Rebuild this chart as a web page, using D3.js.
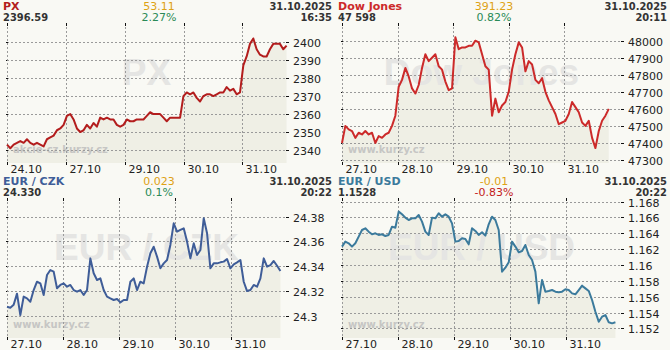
<!DOCTYPE html>
<html>
<head>
<meta charset="utf-8">
<script src="https://cdn.jsdelivr.net/npm/d3@7"></script>
<style>
  body { margin: 0; background: #f9f9f4; }
  svg { display: block; font-family: "DejaVu Sans", sans-serif; }
</style>
</head>
<body>
<div id="chart"></div>
<script>
// Chart data (values sampled evenly along each trading window)

const pxDays = ['24.10', '27.10', '29.10', '30.10', '31.10']
const usDays = ['27.10', '28.10', '29.10', '30.10', '31.10']

const pxTicks = [2400, 2390, 2380, 2370, 2360, 2350, 2340]
const djTicks = [48000, 47900, 47800, 47700, 47600, 47500, 47400, 47300]
const czkTicks = [24.38, 24.36, 24.34, 24.32, 24.3]
const usdTicks = [1.168, 1.166, 1.164, 1.162, 1.16, 1.158, 1.156, 1.154, 1.152]

const pxValues = [
  2343, 2341, 2343, 2344, 2345, 2344, 2346, 2344, 2343, 2344, 2343, 2342, 2346, 2347, 2348,
  2351, 2352, 2354, 2359, 2360, 2357, 2352, 2350, 2351, 2354, 2352, 2355, 2353, 2358, 2357,
  2358, 2357, 2357, 2354, 2353, 2354, 2357, 2356, 2356, 2357, 2357, 2357, 2359, 2361, 2360,
  2360, 2360, 2358, 2356, 2358, 2358, 2358, 2358, 2370, 2372, 2371, 2372, 2369, 2367, 2370,
  2371, 2371, 2370, 2371, 2372, 2372, 2375, 2373, 2374, 2371, 2372, 2387, 2392, 2399, 2402,
  2396, 2393, 2392, 2392, 2396, 2399, 2399, 2399, 2396, 2398
]

const djValues = [
  47400, 47500, 47480, 47470, 47430, 47460, 47450, 47470, 47450, 47460, 47400, 47440, 47430,
  47450, 47460, 47500, 47560, 47730, 47770, 47840, 47790, 47720, 47690, 47740, 47840, 47920,
  47880, 47900, 47920, 47850, 47830, 47760, 47710, 47720, 48020, 47950, 47960, 47960, 47970,
  47970, 48000, 47990, 47920, 47850, 47830, 47560, 47660, 47580, 47620, 47640, 47700, 47830,
  47920, 47990, 47960, 47820, 47880, 47860, 47770, 47750, 47780, 47700, 47650, 47610, 47570,
  47510, 47520, 47530, 47570, 47640, 47610, 47580, 47520, 47500, 47530, 47430, 47370, 47470,
  47530, 47560, 47600
]

const czkValues = [
  24.3075, 24.3067, 24.309, 24.318, 24.3008, 24.3156, 24.3142, 24.3115, 24.3209, 24.3276,
  24.3263, 24.3169, 24.333, 24.337, 24.3357, 24.3223, 24.325, 24.3263, 24.3236, 24.325,
  24.3209, 24.3196, 24.3209, 24.3169, 24.3209, 24.3464, 24.3344, 24.329, 24.3303, 24.3209,
  24.3156, 24.3142, 24.3129, 24.3137, 24.311, 24.3129, 24.3129, 24.3276, 24.3303, 24.3209,
  24.3276, 24.3263, 24.3397, 24.3505, 24.3558, 24.3478, 24.3384, 24.3424, 24.3451, 24.3572,
  24.3746, 24.3679, 24.3693, 24.3706, 24.3599, 24.3464, 24.3585, 24.3491, 24.3531, 24.3787,
  24.3666, 24.3384, 24.3424, 24.3424, 24.3432, 24.3438, 24.3459, 24.3384, 24.3416, 24.3432,
  24.3451, 24.3276, 24.3201, 24.3209, 24.325, 24.3236, 24.3303, 24.3464, 24.3397, 24.341,
  24.3443, 24.3405, 24.3362
]

const usdValues = [
  1.16232, 1.16295, 1.16274, 1.16232, 1.16274, 1.16358, 1.16442, 1.16463, 1.16421, 1.16387,
  1.164, 1.16379, 1.16387, 1.16366, 1.16379, 1.16484, 1.16471, 1.16674, 1.1664, 1.16598,
  1.16568, 1.16589, 1.16589, 1.16632, 1.16547, 1.16421, 1.16379, 1.16598, 1.16589, 1.16653,
  1.1661, 1.1664, 1.1661, 1.16526, 1.16295, 1.16303, 1.16337, 1.16328, 1.16261, 1.16463,
  1.1643, 1.16379, 1.16413, 1.16371, 1.16514, 1.1661, 1.16568, 1.16442, 1.15916, 1.15966,
  1.16034, 1.16295, 1.16232, 1.1616, 1.16177, 1.16253, 1.16126, 1.16063, 1.15916, 1.15516,
  1.15811, 1.15663, 1.15672, 1.15684, 1.15663, 1.15655, 1.15663, 1.15693, 1.15684, 1.15642,
  1.1563, 1.15684, 1.15739, 1.15705, 1.15672, 1.15558, 1.1541, 1.15284, 1.15347, 1.15368,
  1.15276, 1.15263, 1.15276
]

// Panel setup
const panels = [
  { title: 'PX', last: '2396.59', change: '53.11', pct: '2.27%', up: true,
    date: '31.10.2025', time: '16:35', color: '#b31d1d', site: 'akcie-cz.kurzy.cz',
    days: pxDays, ticks: pxTicks, values: pxValues,
    yDomain: [2332.8, 2410.6], dataEnd: 4.75, axisEnd: 4.74 },
  { title: 'Dow Jones', last: '47 598', change: '391.23', pct: '0.82%', up: true,
    date: '31.10.2025', time: '20:11', color: '#cc2a2a', site: 'www.kurzy.cz',
    days: usDays, ticks: djTicks, values: djValues,
    yDomain: [47282.5, 48103.6], dataEnd: 4.80, axisEnd: 5.02 },
  { title: 'EUR / CZK', last: '24.330', change: '0.023', pct: '0.1%', up: true,
    date: '31.10.2025', time: '20:22', color: '#3f5d98', site: 'www.kurzy.cz',
    days: usDays, ticks: czkTicks, values: czkValues,
    yDomain: [24.2823, 24.395], dataEnd: 4.89, axisEnd: 4.99 },
  { title: 'EUR / USD', last: '1.1528', change: '-0.01', pct: '-0.83%', up: false,
    date: '31.10.2025', time: '20:22', color: '#3b7a9c', site: 'www.kurzy.cz',
    days: usDays, ticks: usdTicks, values: usdValues,
    yDomain: [1.15078, 1.16846], dataEnd: 4.89, axisEnd: 4.99 }
]

const width = 670
const height = 350
const panelW = 335
const panelH = 175
const plot = { left: 7, right: 286, top: 23, bottom: 163 }

const svg = d3.select('#chart')
  .append('svg')
  .attr('width', width)
  .attr('height', height)

svg.append('rect')
  .attr('width', width)
  .attr('height', height)
  .attr('fill', '#f9f9f4')

panels.forEach((p, k) => {
  const g = svg.append('g')
    .attr('transform', `translate(${(k % 2) * panelW}, ${Math.floor(k / 2) * panelH})`)

  const x = d3.scaleLinear().domain([0, p.axisEnd]).range([plot.left, plot.right])
  const y = d3.scaleLinear().domain(p.yDomain).range([plot.bottom, plot.top])

  const step = p.dataEnd / (p.values.length - 1)
  const points = p.values.map((v, i) => ({ t: i * step, v: v }))

  // area under the line
  const area = d3.area()
    .x(d => x(d.t))
    .y0(plot.bottom)
    .y1(d => y(d.v))
  g.append('path')
    .datum(points)
    .attr('d', area)
    .attr('fill', '#efefe5')

  // big watermark
  g.append('text')
    .attr('x', (plot.left + plot.right) / 2)
    .attr('y', 85)
    .attr('text-anchor', 'middle')
    .style('font-family', '"Liberation Sans", Arial, sans-serif')
    .style('font-weight', 'bold')
    .style('font-size', '37px')
    .attr('fill', '#e5e5e3')
    .text(p.title)

  g.append('text')
    .attr('x', 13)
    .attr('y', 153)
    .style('font-weight', 'bold')
    .style('font-size', '10px')
    .attr('fill', '#c6c6c4')
    .text(p.site)

  // horizontal grid + ticks
  p.ticks.forEach(v => {
    const yy = Math.round(y(v)) + 0.5
    g.append('line')
      .attr('x1', plot.left).attr('x2', plot.right)
      .attr('y1', yy).attr('y2', yy)
      .attr('stroke', '#9a9a9a')
      .attr('stroke-dasharray', '2,2')
    g.append('line')
      .attr('x1', plot.left - 1).attr('x2', plot.left + 1)
      .attr('y1', yy).attr('y2', yy)
      .attr('stroke', '#111')
    g.append('line')
      .attr('x1', plot.right).attr('x2', plot.right + 3)
      .attr('y1', yy).attr('y2', yy)
      .attr('stroke', '#111')
    g.append('text')
      .attr('x', plot.right + 7)
      .attr('y', yy + 4)
      .style('font-size', '11px')
      .attr('fill', '#222')
      .text(String(v))
  })

  // vertical day grid + labels
  p.days.forEach((label, i) => {
    const xx = Math.round(x(i)) + 0.5
    g.append('line')
      .attr('x1', xx).attr('x2', xx)
      .attr('y1', plot.top).attr('y2', plot.bottom)
      .attr('stroke', '#9a9a9a')
      .attr('stroke-dasharray', '2,2')
    g.append('line')
      .attr('x1', xx).attr('x2', xx)
      .attr('y1', plot.top).attr('y2', plot.top + 3)
      .attr('stroke', '#111')
    g.append('line')
      .attr('x1', xx).attr('x2', xx)
      .attr('y1', plot.bottom - 1).attr('y2', plot.bottom + 2)
      .attr('stroke', '#111')
    g.append('text')
      .attr('x', xx + 3)
      .attr('y', 173)
      .style('font-size', '11px')
      .attr('fill', '#222')
      .text(label)
  })

  // price line
  const line = d3.line()
    .x(d => x(d.t))
    .y(d => y(d.v))
  g.append('path')
    .datum(points)
    .attr('d', line)
    .attr('fill', 'none')
    .attr('stroke', p.color)
    .attr('stroke-width', 2)
    .attr('stroke-linejoin', 'round')

  // header
  g.append('text')
    .attr('x', 3).attr('y', 10)
    .style('font-size', '11px')
    .style('font-weight', 'bold')
    .attr('fill', p.color)
    .text(p.title)
  g.append('text')
    .attr('x', 3).attr('y', 21)
    .style('font-family', '"DejaVu Sans Condensed", "DejaVu Sans", sans-serif')
    .style('font-size', '11px')
    .style('font-weight', 'bold')
    .attr('fill', '#333')
    .text(p.last)
  g.append('text')
    .attr('x', 159).attr('y', 10)
    .attr('text-anchor', 'middle')
    .style('font-size', '11px')
    .attr('fill', '#dea214')
    .text(p.change)
  g.append('text')
    .attr('x', 159).attr('y', 21)
    .attr('text-anchor', 'middle')
    .style('font-size', '11px')
    .attr('fill', p.up ? '#2a8a57' : '#c42020')
    .text(p.pct)
  g.append('text')
    .attr('x', 332).attr('y', 10)
    .attr('text-anchor', 'end')
    .style('font-family', '"DejaVu Sans Condensed", "DejaVu Sans", sans-serif')
    .style('font-size', '11px')
    .style('font-weight', 'bold')
    .attr('fill', '#333')
    .text(p.date)
  g.append('text')
    .attr('x', 332).attr('y', 21)
    .attr('text-anchor', 'end')
    .style('font-family', '"DejaVu Sans Condensed", "DejaVu Sans", sans-serif')
    .style('font-size', '11px')
    .style('font-weight', 'bold')
    .attr('fill', '#333')
    .text(p.time)
})
</script>
</body>
</html>
